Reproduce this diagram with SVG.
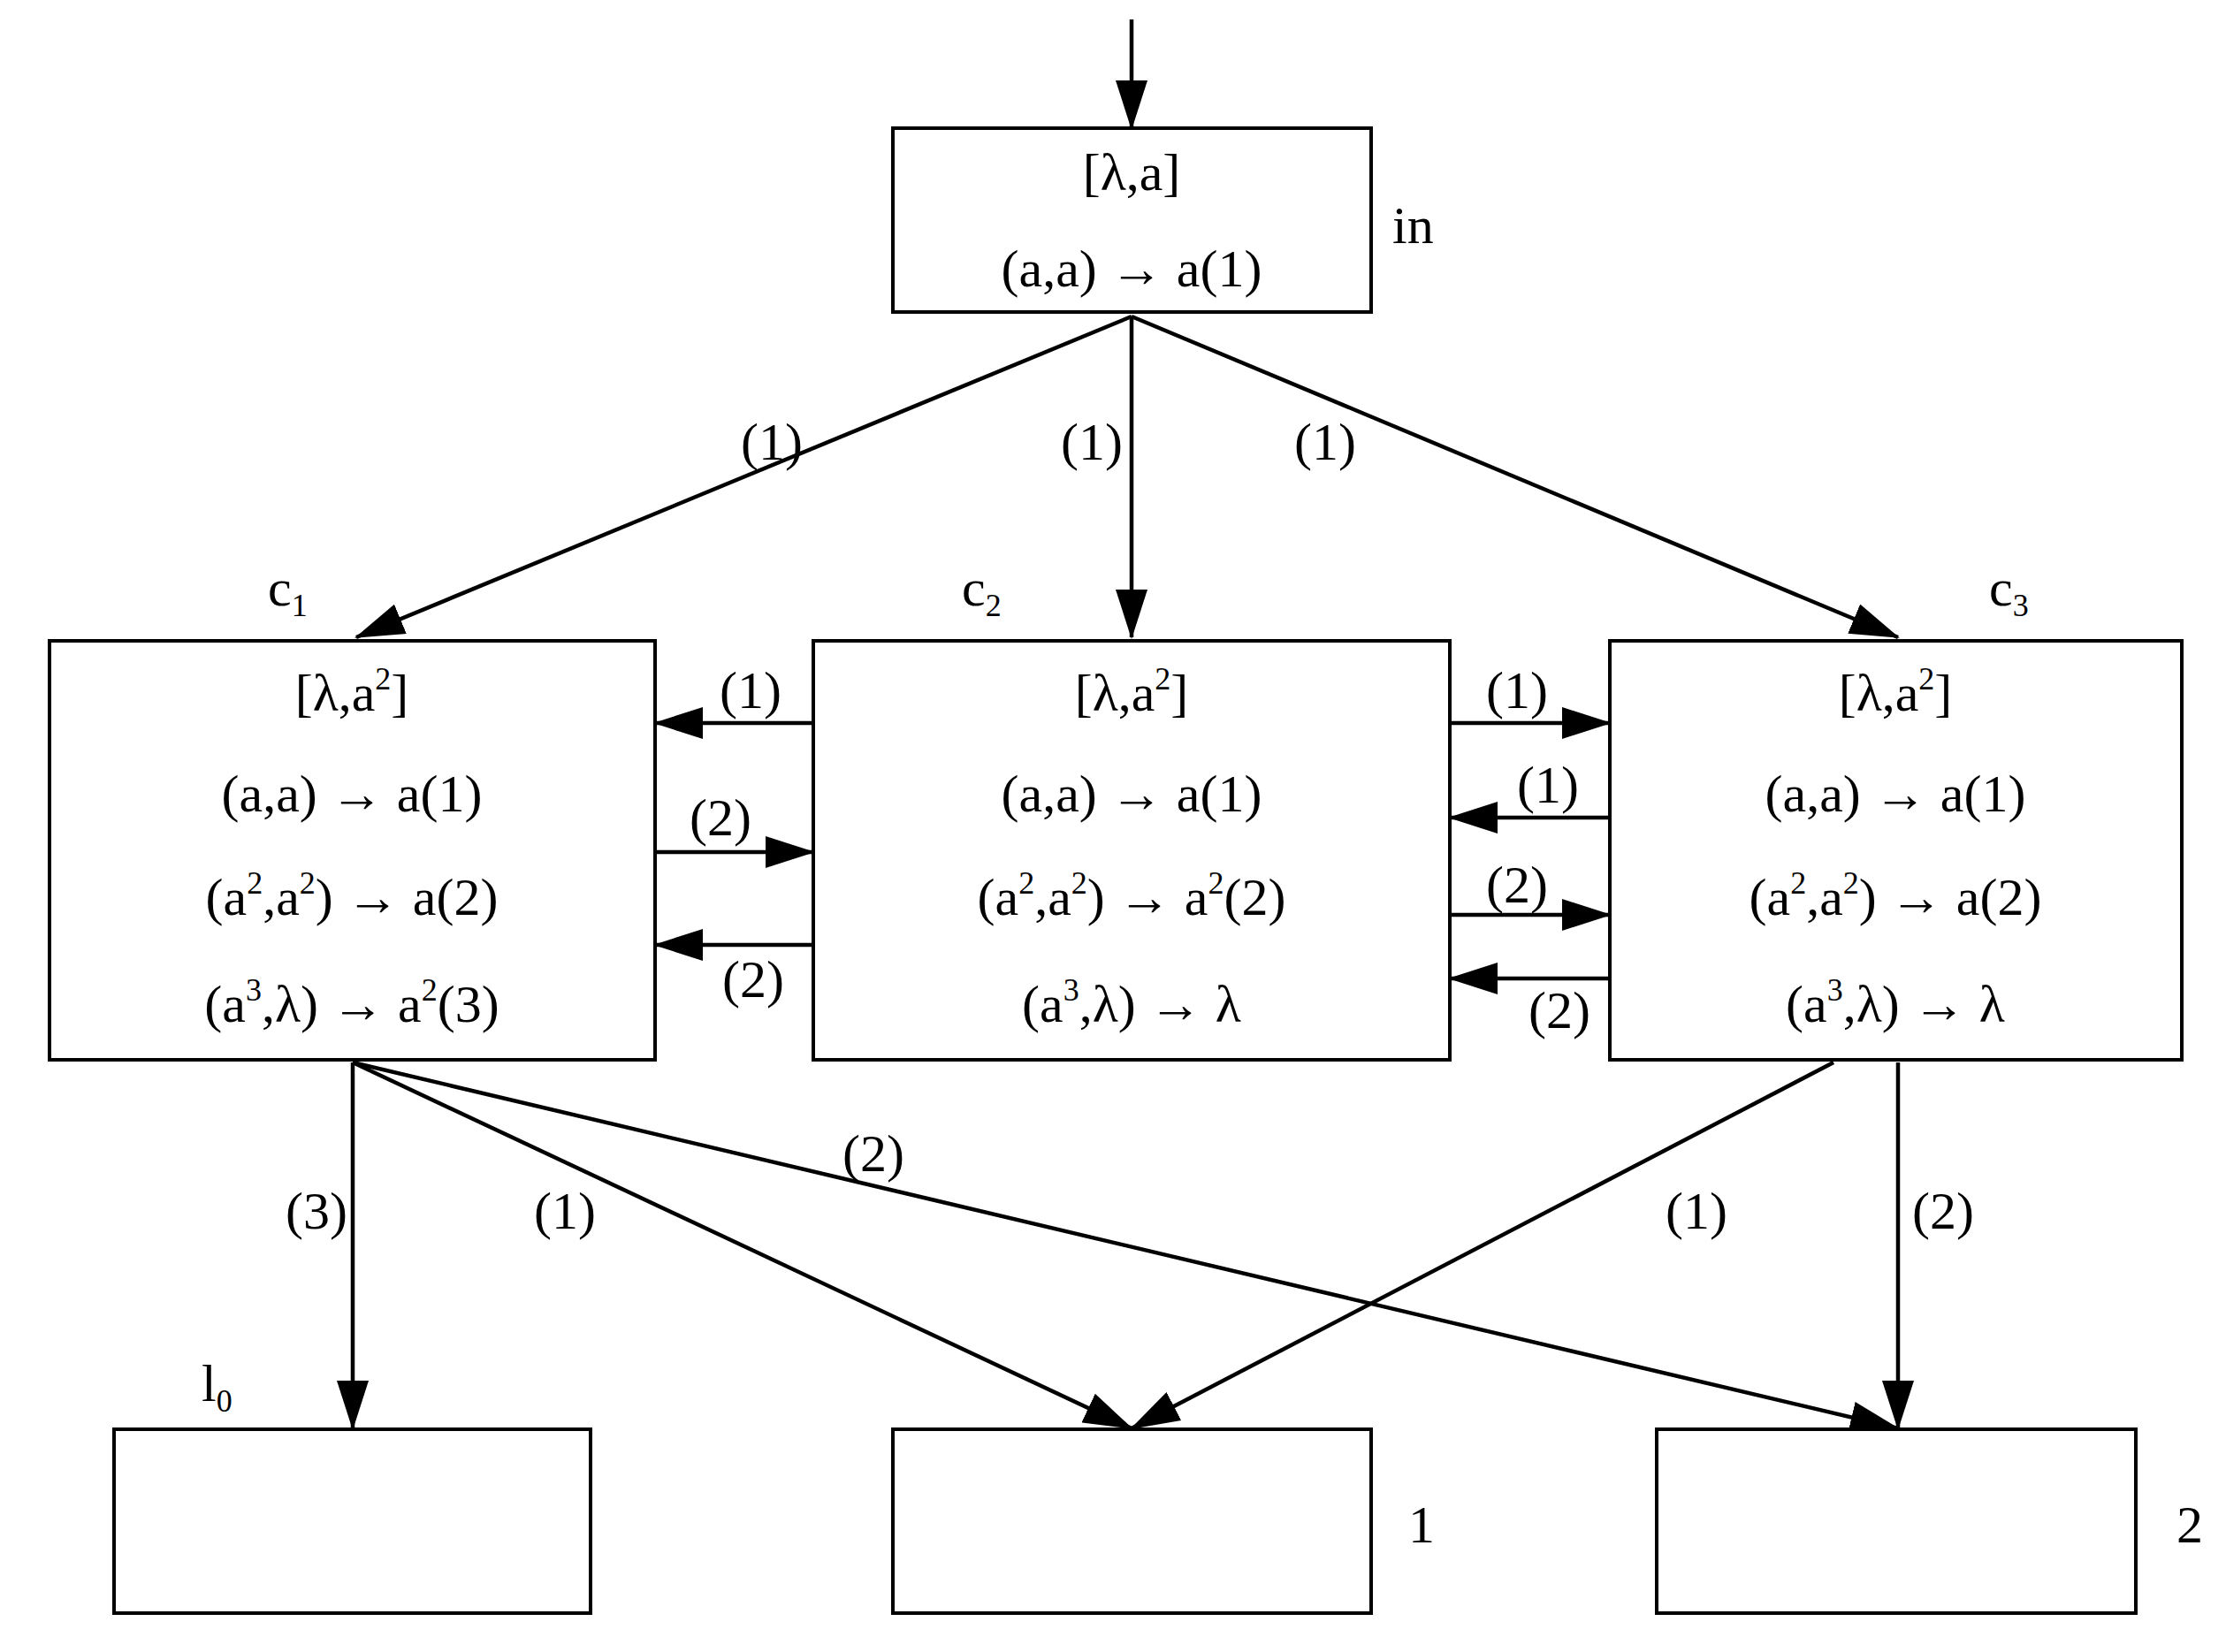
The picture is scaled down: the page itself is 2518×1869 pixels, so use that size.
<svg xmlns="http://www.w3.org/2000/svg" width="2518" height="1869" viewBox="0 0 2518 1869">
<style>
.b{fill:#fff;stroke:#000;stroke-width:4}
.c line{stroke:#000;stroke-width:4.5}
text{font-family:"Liberation Serif","Times New Roman",serif;font-size:60px;fill:#000}
.m{text-anchor:middle}
.s{font-size:36px}
</style>
<defs>
<marker id="a" markerUnits="userSpaceOnUse" markerWidth="56" markerHeight="36" refX="54" refY="18" orient="auto"><path d="M0,0L56,18L0,36z"/></marker>
</defs>
<rect width="2518" height="1869" fill="#fff"/>
<g class="c">
<line x1="1280" y1="22" x2="1280" y2="145" marker-end="url(#a)"/>
<line x1="1280" y1="358" x2="403" y2="721" marker-end="url(#a)"/>
<line x1="1280" y1="358" x2="1280" y2="721" marker-end="url(#a)"/>
<line x1="1280" y1="358" x2="2147" y2="721" marker-end="url(#a)"/>
<line x1="920" y1="818" x2="741" y2="818" marker-end="url(#a)"/>
<line x1="741" y1="964" x2="920" y2="964" marker-end="url(#a)"/>
<line x1="920" y1="1069" x2="741" y2="1069" marker-end="url(#a)"/>
<line x1="1640" y1="818" x2="1821" y2="818" marker-end="url(#a)"/>
<line x1="1821" y1="925" x2="1640" y2="925" marker-end="url(#a)"/>
<line x1="1640" y1="1035" x2="1821" y2="1035" marker-end="url(#a)"/>
<line x1="1821" y1="1107" x2="1640" y2="1107" marker-end="url(#a)"/>
<line x1="399" y1="1202" x2="399" y2="1616" marker-end="url(#a)"/>
<line x1="399" y1="1202" x2="1280" y2="1616" marker-end="url(#a)"/>
<line x1="399" y1="1202" x2="2147" y2="1616" marker-end="url(#a)"/>
<line x1="2074" y1="1202" x2="1280" y2="1616" marker-end="url(#a)"/>
<line x1="2147" y1="1202" x2="2147" y2="1616" marker-end="url(#a)"/>
</g>
<g id="in"><rect class="b" x="1010" y="145" width="541" height="208"/>
<text class="m" x="1280" y="215">[λ,a]</text>
<text class="m" x="1280" y="324">(a,a) → a(1)</text>
<text x="1575" y="275">in</text></g>
<g id="c1"><rect class="b" x="56" y="725" width="685" height="474"/>
<text class="m" x="398" y="804">[λ,a<tspan class="s" dy="-24">2</tspan><tspan dy="24">]</tspan></text>
<text class="m" x="398" y="918">(a,a) → a(1)</text>
<text class="m" x="398" y="1035">(a<tspan class="s" dy="-24">2</tspan><tspan dy="24">,a</tspan><tspan class="s" dy="-24">2</tspan><tspan dy="24">) → a(2)</tspan></text>
<text class="m" x="398" y="1156">(a<tspan class="s" dy="-24">3</tspan><tspan dy="24">,λ) → a</tspan><tspan class="s" dy="-24">2</tspan><tspan dy="24">(3)</tspan></text>
<text x="303" y="685">c<tspan class="s" dy="12">1</tspan></text></g>
<g id="c2"><rect class="b" x="920" y="725" width="720" height="474"/>
<text class="m" x="1280" y="804">[λ,a<tspan class="s" dy="-24">2</tspan><tspan dy="24">]</tspan></text>
<text class="m" x="1280" y="918">(a,a) → a(1)</text>
<text class="m" x="1280" y="1035">(a<tspan class="s" dy="-24">2</tspan><tspan dy="24">,a</tspan><tspan class="s" dy="-24">2</tspan><tspan dy="24">) → a</tspan><tspan class="s" dy="-24">2</tspan><tspan dy="24">(2)</tspan></text>
<text class="m" x="1280" y="1156">(a<tspan class="s" dy="-24">3</tspan><tspan dy="24">,λ) → λ</tspan></text>
<text x="1088" y="685">c<tspan class="s" dy="12">2</tspan></text></g>
<g id="c3"><rect class="b" x="1821" y="725" width="647" height="474"/>
<text class="m" x="2144" y="804">[λ,a<tspan class="s" dy="-24">2</tspan><tspan dy="24">]</tspan></text>
<text class="m" x="2144" y="918">(a,a) → a(1)</text>
<text class="m" x="2144" y="1035">(a<tspan class="s" dy="-24">2</tspan><tspan dy="24">,a</tspan><tspan class="s" dy="-24">2</tspan><tspan dy="24">) → a(2)</tspan></text>
<text class="m" x="2144" y="1156">(a<tspan class="s" dy="-24">3</tspan><tspan dy="24">,λ) → λ</tspan></text>
<text x="2250" y="685">c<tspan class="s" dy="12">3</tspan></text></g>
<g id="l0"><rect class="b" x="129" y="1617" width="539" height="208"/>
<text x="228" y="1585">l<tspan class="s" dy="12">0</tspan></text></g>
<g id="l1"><rect class="b" x="1010" y="1617" width="541" height="208"/>
<text x="1593" y="1745">1</text></g>
<g id="l2"><rect class="b" x="1874" y="1617" width="542" height="208"/>
<text x="2462" y="1745">2</text></g>
<g id="labels" class="m">
<text class="m" x="873" y="520">(1)</text>
<text class="m" x="1235" y="520">(1)</text>
<text class="m" x="1499" y="520">(1)</text>
<text class="m" x="849" y="801">(1)</text>
<text class="m" x="815" y="945">(2)</text>
<text class="m" x="852" y="1128">(2)</text>
<text class="m" x="1716" y="801">(1)</text>
<text class="m" x="1751" y="908">(1)</text>
<text class="m" x="1716" y="1021">(2)</text>
<text class="m" x="1764" y="1163">(2)</text>
<text class="m" x="358" y="1390">(3)</text>
<text class="m" x="639" y="1390">(1)</text>
<text class="m" x="988" y="1325">(2)</text>
<text class="m" x="1919" y="1390">(1)</text>
<text class="m" x="2198" y="1390">(2)</text>
</g>
</svg>
